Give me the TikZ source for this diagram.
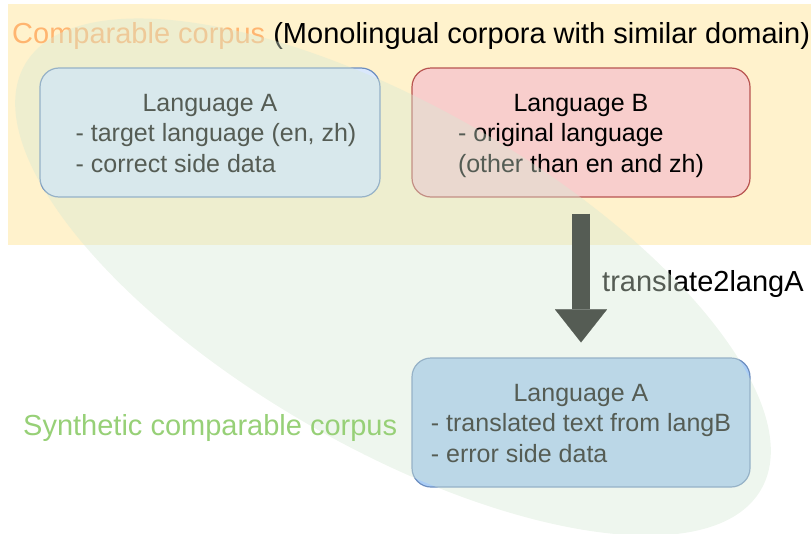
\documentclass[tikz,border=0pt]{standalone}
\usepackage{fontspec}
\setmainfont{Liberation Sans}
\usetikzlibrary{arrows.meta}
\definecolor{orangebg}{HTML}{FFF2CC}
\definecolor{blueA}{HTML}{DAE8FC}
\definecolor{blueC}{RGB}{170,205,245}
\definecolor{bluestroke}{HTML}{6C8EBF}
\definecolor{redB}{HTML}{F8CECC}
\definecolor{redstroke}{HTML}{B85450}
\definecolor{corpusorange}{HTML}{FFB570}
\definecolor{synthgreen}{HTML}{97D077}
\definecolor{ellgreen}{HTML}{D5E8D4}
\newcommand{\boxlines}[4][0pt]{\raisebox{-3pt}[\height][\depth]{\begin{tabular}{@{\hspace{#1}}l@{}}\multicolumn{1}{@{}c@{}}{#2}\\#3\\#4\end{tabular}}}
\begin{document}
\begin{tikzpicture}[x=1pt,y=-1pt,
  box/.style={draw, line width=1.2pt, rounded corners=19pt, minimum width=340pt,
    minimum height=129pt, inner sep=0pt, font=\fontsize{25}{30.5}\selectfont},
  bigtext/.style={anchor=base west, inner sep=0pt, font=\fontsize{29}{34}\selectfont},
  bigarrow/.style={line width=18pt, black,
    -{Triangle[width=52pt,length=33pt,line width=0.1pt]}}]
\useasboundingbox (0,0) rectangle (811,533);
\fill[orangebg] (8,4) rectangle (811,245);

\node[box, fill=blueA, draw=bluestroke] (A) at (210,132.5)
  {\boxlines[12pt]{Language A}{- target language (en, zh)}{- correct side data}};
\node[box, fill=redB, draw=redstroke, minimum width=338pt] (B) at (581,132.5)
  {\boxlines{Language B}{- original language}{(other than en and zh)}};
\node[box, fill=blueC, draw=bluestroke, minimum width=338pt] (C) at (581,422.5)
  {\boxlines{Language A}{- translated text from langB}{- error side data}};

\node[bigtext] (title) at (12,43)
  {\textcolor{corpusorange}{Comparable corpus} (Monolingual corpora with similar domain)};
\node[bigtext] (lbl) at (602,291) {translate2langA};

\draw[bigarrow] ([yshift=-16pt]B.south) -- ([yshift=15pt]C.north);

\begin{scope}[rotate around={-30:(393,277)}]
  \fill[ellgreen, fill opacity=0.4] (393,277) ellipse [x radius=425, y radius=170];
\end{scope}

\node[bigtext, text=synthgreen] (synth) at (23,435) {Synthetic comparable corpus};
\end{tikzpicture}
\end{document}
